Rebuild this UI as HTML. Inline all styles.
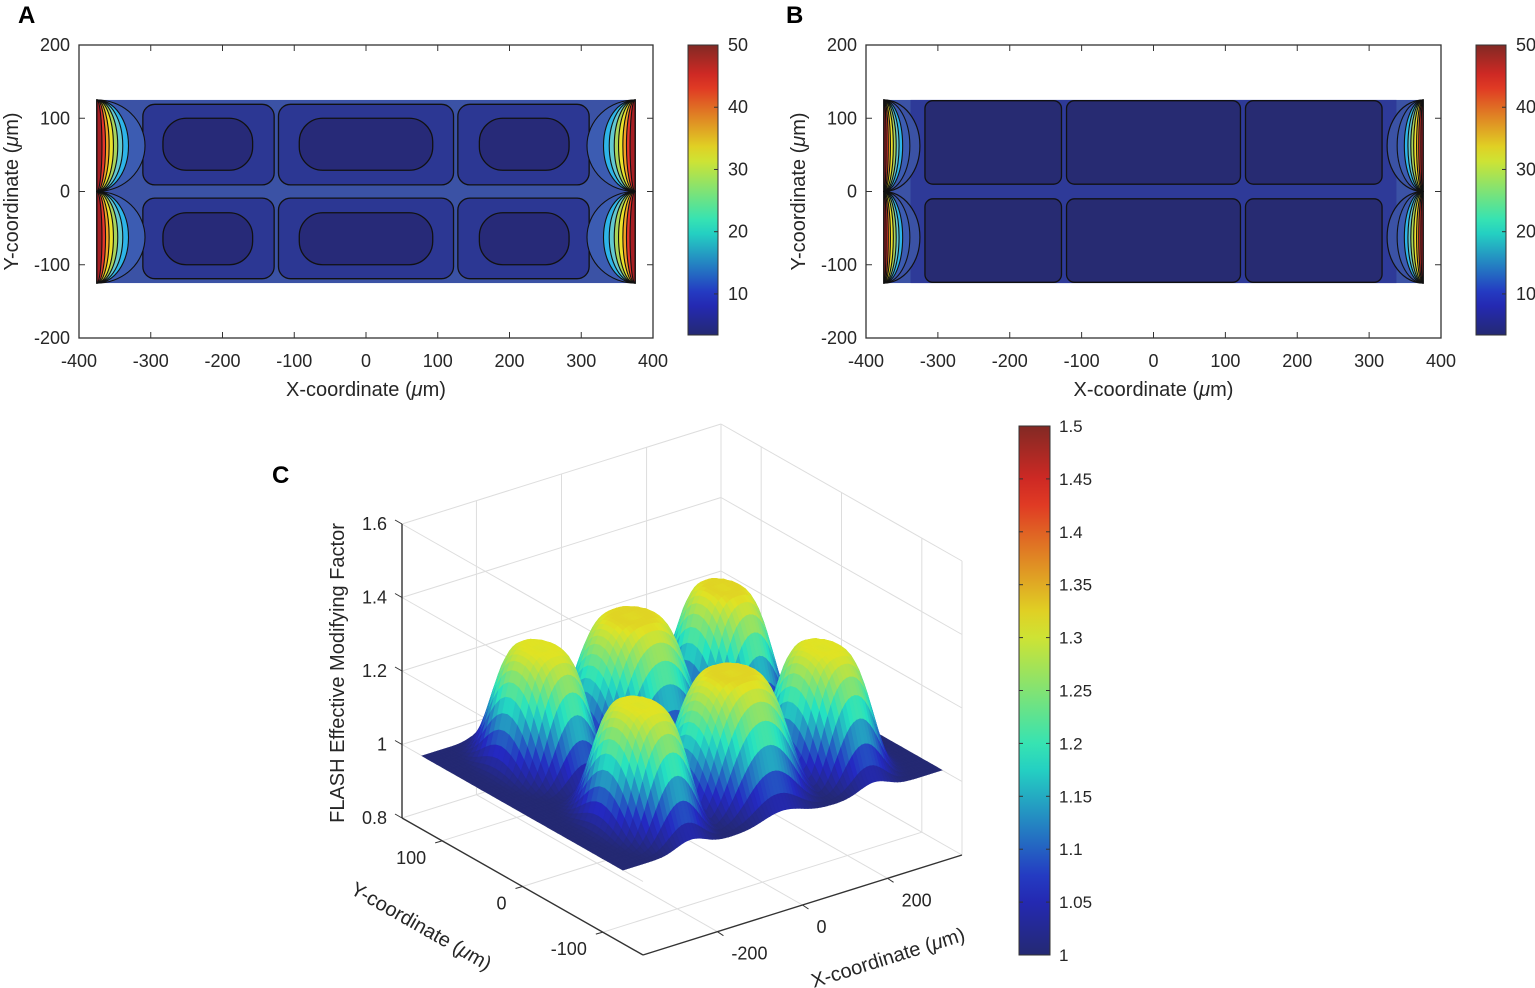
<!DOCTYPE html>
<html><head><meta charset="utf-8">
<style>
html,body{margin:0;padding:0;background:#fff;}
svg{display:block;font-family:"Liberation Sans",sans-serif;}
</style></head>
<body>
<svg id="fig" width="1535" height="988" viewBox="0 0 1535 988" xmlns="http://www.w3.org/2000/svg">
<text x="18" y="23" font-size="24" font-weight="bold">A</text>
<text x="786" y="23" font-size="24" font-weight="bold">B</text>
<text x="272" y="483" font-size="24" font-weight="bold">C</text>
<g id="gA"></g>
<g id="gB"></g>
<g id="gC"></g>
</svg>
<script>
// ---------- data ----------
var xTicks2D = [-400,-300,-200,-100,0,100,200,300,400];
var yTicks2D = [-200,-100,0,100,200];
var cbTicks2D = [10,20,30,40,50];
var cbRange2D = [3.4,50];
var bandLevels = [12.5,17.5,22.5,27.5,32.5,37.5,42.5,47.5];
var bandColors = ['#3c5cb2','#2eb4e8','#62c8d0','#a9d45a','#ebe12a','#f4a224','#e6362b','#a61e23'];
var bandRxA = [67,44,36,29,23,17,12,7];
var bandRxB = [36,26,21,17,13,9,6,3];
var cellXA = [[-311,-128],[-122,122],[128,311]];
var cellYA = [[9,119],[-119,-9]];
var innerXA = [[-283,-158],[-93,93],[158,283]];
var innerYA = [[29,100],[-100,-29]];
var cellXB = [[-318,-128],[-121,121],[128,318]];
var cellYB = [[10,124],[-124,-10]];
var peakX = [-215,0,215,-215,0,215];
var peakY = [62,62,62,-62,-62,-62];
var peakH = [0.32,0.33,0.33,0.32,0.33,0.32];
var peakSX = [85,112,85,85,112,85];
var cbTicksC = [1,1.05,1.1,1.15,1.2,1.25,1.3,1.35,1.4,1.45,1.5];
var zTicksC = [0.8,1,1.2,1.4,1.6];
var xTicksC = [-200,0,200];
var yTicksC = [-100,0,100];

var NS="http://www.w3.org/2000/svg";
function mk(tag, attrs, parent){var e=document.createElementNS(NS,tag);for(var k in attrs)e.setAttribute(k,attrs[k]);parent.appendChild(e);return e;}
function jet(t){t=Math.max(0,Math.min(1,t));
 function c(v){return Math.max(0,Math.min(1,v));}
 var r=c(1.5-Math.abs(4*t-3)),g=c(1.5-Math.abs(4*t-2)),b=c(1.5-Math.abs(4*t-1));
 return 'rgb('+Math.round(255*(0.14+0.74*r))+','+Math.round(255*(0.16+0.73*g))+','+Math.round(255*(0.14+0.62*b))+')';}

// ---------- 2D panels ----------
function panel2D(g, L, R, bandRx, isA){
 var T=45,B=338;
 var sx=function(x){return L+(x+400)/800*(R-L);};
 var sy=function(y){return B-(y+200)/400*(B-T);};
 var kx=(R-L)/800;
 var r=mk('rect',{x:sx(-375),y:sy(125),width:sx(375)-sx(-375),height:sy(-125)-sy(125),fill:'#3b52a5'},g);
 
 
 if(!isA){
  var ring=mk('rect',{x:sx(-338),y:sy(125),width:sx(338)-sx(-338),height:sy(-125)-sy(125),fill:'#2e3a98'},g);
  
  
 }
 var cx=isA?cellXA:cellXB, cy=isA?cellYA:cellYB;
 cx.forEach(function(xr){cy.forEach(function(yr){
  var c=mk('rect',{x:sx(xr[0]),y:sy(yr[1]),width:sx(xr[1])-sx(xr[0]),height:sy(yr[0])-sy(yr[1]),rx:isA?12:8,fill:isA?'#2c3793':'#272b72',stroke:'#111',"stroke-width":1.3},g);
  
  
 });});
 if(isA){innerXA.forEach(function(xr){innerYA.forEach(function(yr){
  var h=sy(yr[0])-sy(yr[1]);
  var c=mk('rect',{x:sx(xr[0]),y:sy(yr[1]),width:sx(xr[1])-sx(xr[0]),height:h,rx:h*0.45,fill:'#272a78',stroke:'#111',"stroke-width":1.3},g);
  
  
 });});}
 [-1,1].forEach(function(side){[0,1].forEach(function(half){
  var y0=half?0:-125,y1=half?125:0;
  var xe=sx(side*375);
  var p0=sy(y0),p1=sy(y1),ry=(p0-p1)/2;
  if(!isA){
   var rxo=(bandRx[0]+14)*kx;
   var pp=mk('path',{d:'M'+xe+','+p0+' A'+rxo+','+ry+' 0 0 '+(side<0?0:1)+' '+xe+','+p1+' Z',fill:'#3b52a5',stroke:'#111',"stroke-width":1.2},g);
   
   
  }
  bandRx.forEach(function(rx,i){
   var rxp=rx*kx;
   var p=mk('path',{d:'M'+xe+','+p0+' A'+rxp+','+ry+' 0 0 '+(side<0?0:1)+' '+xe+','+p1+' Z',fill:bandColors[i],stroke:'#111',"stroke-width":1.1},g);
   
   
  });
 });});
 var bx=mk('rect',{x:L,y:T,width:R-L,height:B-T,fill:'none',stroke:'#333',"stroke-width":1.3},g);
 
 
 xTicks2D.forEach(function(v){
  var x=sx(v);
  mk('line',{x1:x,y1:B,x2:x,y2:B-6,stroke:'#333'},g);
  mk('line',{x1:x,y1:T,x2:x,y2:T+6,stroke:'#333'},g);
  var t=mk('text',{x:x,y:367,"font-size":18,"text-anchor":"middle",fill:'#262626'},g);t.textContent=v;
  
  
 });
 yTicks2D.forEach(function(v){
  var y=sy(v);
  mk('line',{x1:L,y1:y,x2:L+6,y2:y,stroke:'#333'},g);
  mk('line',{x1:R,y1:y,x2:R-6,y2:y,stroke:'#333'},g);
  var t=mk('text',{x:L-9,y:y+6,"font-size":18,"text-anchor":"end",fill:'#262626'},g);t.textContent=v;
  
  
 });
 var xl=mk('text',{x:(L+R)/2,y:396,"font-size":20,"text-anchor":"middle",fill:'#262626'},g);
 xl.innerHTML='X-coordinate (<tspan font-style="italic">μ</tspan>m)';
 
 
 var yl=mk('text',{x:0,y:0,"font-size":20,"text-anchor":"middle",fill:'#262626',transform:'translate('+(L-61)+','+((T+B)/2)+') rotate(-90)'},g);
 yl.innerHTML='Y-coordinate (<tspan font-style="italic">μ</tspan>m)';
 
 
 var cbx=R+35, cbT=45, cbB=335;
 var id='cbg'+(isA?'A':'B');
 var defs=mk('defs',{},g);
 var lg=mk('linearGradient',{id:id,x1:0,y1:1,x2:0,y2:0},defs);
 for(var i=0;i<=20;i++)mk('stop',{offset:i/20,"stop-color":jet(i/20)},lg);
 var cb=mk('rect',{x:cbx,y:cbT,width:30,height:cbB-cbT,fill:'url(#'+id+')',stroke:'#333',"stroke-width":1},g);
 
 
 cbTicks2D.forEach(function(v){
  var y=cbB-(v-cbRange2D[0])/(cbRange2D[1]-cbRange2D[0])*(cbB-cbT);
  mk('line',{x1:cbx+30,y1:y,x2:cbx+26,y2:y,stroke:'#333'},g);
  var t=mk('text',{x:cbx+40,y:y+6,"font-size":18,fill:'#262626'},g);t.textContent=v;
  
  
 });
}
panel2D(document.getElementById('gA'),79,653,bandRxA,true);
panel2D(document.getElementById('gB'),866,1441,bandRxB,false);

// ---------- 3D panel ----------
var gC=document.getElementById('gC');
var X0=-375,X1=375,Y0=-150,Y1=150,Z0=0.8,Z1=1.6;
function P(x,y,z){
 var xn=(x-X0)/(X1-X0), yn=(y-Y0)/(Y1-Y0), zn=(z-Z0)/(Z1-Z0);
 return [643+319*xn-241*yn, 955-100*xn-137*yn-294*zn];
}
function surf(x,y){
 var z=1.0;
 for(var i=0;i<peakX.length;i++){
  var dx=(x-peakX[i])/peakSX[i], dy=(y-peakY[i])/50;
  var u=Math.sqrt(dx*dx+dy*dy);
  var b=peakH[i]*Math.exp(-Math.pow(u,4));
  b*=1-0.035*Math.exp(-(u/0.3)*(u/0.3));
  z=Math.max(z,1.0+b);
 }
 return z;
}
function line3(a,b,stroke,w,name){
 var p=P(a[0],a[1],a[2]),q=P(b[0],b[1],b[2]);
 var l=mk('line',{x1:p[0],y1:p[1],x2:q[0],y2:q[1],stroke:stroke,"stroke-width":w},gC);
 
 
}
var gcol='#dddddd';
zTicksC.forEach(function(z){
 line3([X0,Y0,z],[X0,Y1,z],gcol,1,'grid-line');
 line3([X0,Y1,z],[X1,Y1,z],gcol,1,'grid-line');
 line3([X1,Y1,z],[X1,Y0,z],gcol,1,'grid-line');
});
xTicksC.forEach(function(x){
 line3([x,Y0,Z0],[x,Y1,Z0],gcol,1,'grid-line');
 line3([x,Y1,Z0],[x,Y1,Z1],gcol,1,'grid-line');
});
yTicksC.forEach(function(y){
 line3([X0,y,Z0],[X1,y,Z0],gcol,1,'grid-line');
 line3([X1,y,Z0],[X1,y,Z1],gcol,1,'grid-line');
});
line3([X1,Y1,Z0],[X1,Y1,Z1],gcol,1,'grid-line');
line3([X1,Y0,Z0],[X1,Y0,Z1],gcol,1,'grid-line');

var NX=100,NY=40,xs=[],ys=[];
for(var i=0;i<=NX;i++)xs.push(-375+750*i/NX);
for(var j=0;j<=NY;j++)ys.push(-125+250*j/NY);
var Z=[];for(i=0;i<=NX;i++){Z.push([]);for(j=0;j<=NY;j++)Z[i].push(surf(xs[i],ys[j]));}
var quads=[];
for(i=0;i<NX;i++)for(j=0;j<NY;j++){
 var gp=P((xs[i]+xs[i+1])/2,(ys[j]+ys[j+1])/2,Z0);
 quads.push([i,j,gp[1]]);
}
quads.sort(function(a,b){return a[2]-b[2];});
var sg=mk('g',{},gC);


quads.forEach(function(q){
 var i=q[0],j=q[1];
 var pts=[[i,j],[i+1,j],[i+1,j+1],[i,j+1]].map(function(k){var p=P(xs[k[0]],ys[k[1]],Z[k[0]][k[1]]);return p[0].toFixed(1)+','+p[1].toFixed(1);});
 var zm=(Z[i][j]+Z[i+1][j]+Z[i+1][j+1]+Z[i][j+1])/4;
 var c=jet((zm-1)/0.5);
 mk('polygon',{points:pts.join(' '),fill:c,stroke:c,"stroke-width":0.7},sg);
});

line3([X0,Y1,Z0],[X0,Y1,Z1],'#333',1.4,'z-axis-line');
line3([X0,Y1,Z0],[X0,Y0,Z0],'#333',1.4,'y-axis-line');
line3([X0,Y0,Z0],[X1,Y0,Z0],'#333',1.4,'x-axis-line');
zTicksC.forEach(function(z){
 var p=P(X0,Y1,z);
 mk('line',{x1:p[0],y1:p[1],x2:p[0]-7,y2:p[1]-4,stroke:'#333'},gC);
 var t=mk('text',{x:p[0]-15,y:p[1]+6,"font-size":18,"text-anchor":"end",fill:'#262626'},gC);t.textContent=z===1?'1':z.toFixed(1);
 
 
});
yTicksC.forEach(function(y){
 var p=P(X0,y,Z0);
 mk('line',{x1:p[0],y1:p[1],x2:p[0]-7,y2:p[1]+2,stroke:'#333'},gC);
 var t=mk('text',{x:p[0]-16,y:p[1]+23,"font-size":18,"text-anchor":"end",fill:'#262626'},gC);t.textContent=y;
 
 
});
xTicksC.forEach(function(x){
 var p=P(x,Y0,Z0);
 mk('line',{x1:p[0],y1:p[1],x2:p[0]+6,y2:p[1]+4,stroke:'#333'},gC);
 var t=mk('text',{x:p[0]+14,y:p[1]+28,"font-size":18,"text-anchor":"start",fill:'#262626'},gC);t.textContent=x;
 
 
});
var zl=mk('text',{x:0,y:0,"font-size":20,"text-anchor":"middle",fill:'#262626',transform:'translate(344,673) rotate(-90)'},gC);
zl.textContent='FLASH Effective Modifying Factor';


var yl3=mk('text',{x:0,y:0,"font-size":20,"text-anchor":"middle",fill:'#262626',transform:'translate(418,932) rotate(29.6)'},gC);
yl3.innerHTML='Y-coordinate (<tspan font-style="italic">μ</tspan>m)';


var xl3=mk('text',{x:0,y:0,"font-size":20,"text-anchor":"middle",fill:'#262626',transform:'translate(890,964) rotate(-17.4)'},gC);
xl3.innerHTML='X-coordinate (<tspan font-style="italic">μ</tspan>m)';



var defsC=mk('defs',{},gC);
var lgC=mk('linearGradient',{id:'cbgC',x1:0,y1:1,x2:0,y2:0},defsC);
for(i=0;i<=20;i++)mk('stop',{offset:i/20,"stop-color":jet(i/20)},lgC);
var cbC=mk('rect',{x:1019,y:426,width:31,height:529,fill:'url(#cbgC)',stroke:'#333',"stroke-width":1},gC);


cbTicksC.forEach(function(v){
 var y=955-(v-1)/0.5*529;
 mk('line',{x1:1050,y1:y,x2:1046,y2:y,stroke:'#333'},gC);
 mk('line',{x1:1019,y1:y,x2:1023,y2:y,stroke:'#333'},gC);
 var t=mk('text',{x:1059,y:y+6,"font-size":17,fill:'#262626'},gC);
 t.textContent=(Math.round(v*100)/100).toString();
 
 
});
</script>
</body></html>
